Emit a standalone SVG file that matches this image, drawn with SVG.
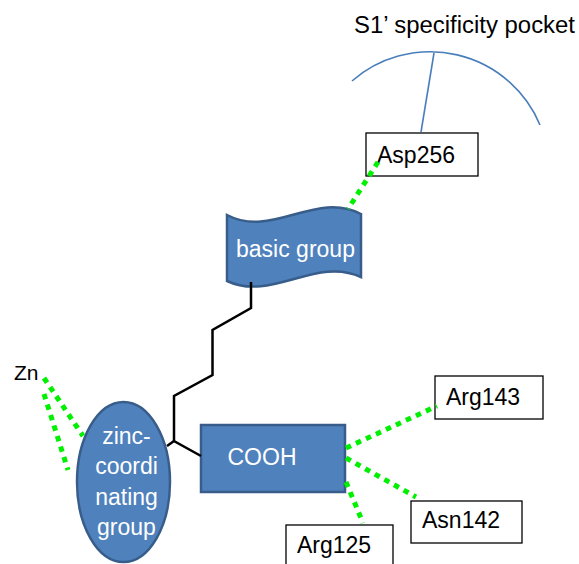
<svg xmlns="http://www.w3.org/2000/svg" width="579" height="564" viewBox="0 0 579 564">
<style>
  .blue { fill: #4f81bd; stroke: #385d8a; stroke-width: 2.5; }
  .box { fill: #ffffff; stroke: #000000; stroke-width: 1.3; }
  .wt { font-family: "Liberation Sans", Arial, sans-serif; font-size: 23px; fill: #ffffff; }
  .bt { font-family: "Liberation Sans", Arial, sans-serif; font-size: 23px; fill: #000000; }
  .dot { fill: none; stroke: #00f000; stroke-width: 5; stroke-dasharray: 5.5 5.5; }
  .chain { fill: none; stroke: #000000; stroke-width: 2.5; stroke-linejoin: miter; }
  .pocket { fill: none; stroke: #4a7ebb; stroke-width: 1.6; }
</style>
<rect width="579" height="564" fill="#ffffff"/>

<g id="s1-pocket">
  <path class="pocket" d="M352,81 A119,119 0 0 1 540,125"/>
  <text class="bt" x="354" y="33" textLength="221" lengthAdjust="spacingAndGlyphs">S1’ specificity pocket</text>
</g>

<g id="asp256">
  <rect class="box" x="366" y="133" width="112" height="43"/>
  <text class="bt" x="377" y="163">Asp256</text>
</g>

<g id="basic-group">
  <path class="blue" d="M227,215 C272,239 316,190 361,214 L361,277 C316,256 272,302 227,281 Z"/>
  <text class="wt" x="295.5" y="257" text-anchor="middle">basic group</text>
</g>

<g id="cooh">
  <rect class="blue" x="201" y="425" width="144" height="67"/>
  <text class="wt" x="262" y="465" text-anchor="middle">COOH</text>
</g>

<g id="zinc-coordinating-group">
  <ellipse class="blue" cx="123.5" cy="482" rx="46.5" ry="80"/>
  <text class="wt" x="126.5" y="444" text-anchor="middle">zinc-</text>
  <text class="wt" x="126.5" y="474" text-anchor="middle">coordi</text>
  <text class="wt" x="126.5" y="505" text-anchor="middle">nating</text>
  <text class="wt" x="126.5" y="535" text-anchor="middle">group</text>
</g>

<g id="zn">
  <text class="bt" x="14" y="380" style="font-size:21px">Zn</text>
</g>

<g id="arg143">
  <rect class="box" x="435" y="376" width="108" height="43"/>
  <text class="bt" x="446" y="405">Arg143</text>
</g>

<g id="asn142">
  <rect class="box" x="411" y="501" width="111" height="42"/>
  <text class="bt" x="422" y="528">Asn142</text>
</g>

<g id="arg125">
  <rect class="box" x="286" y="525" width="107" height="50"/>
  <text class="bt" x="297" y="553">Arg125</text>
</g>

<g id="connectors">
  <line class="pocket" x1="434" y1="53" x2="421" y2="132"/>
  <polyline class="chain" points="251,282 251,308 212.5,330 212.5,375 174,396 174,441 201,456"/>
  <line class="chain" x1="174" y1="441" x2="167" y2="446"/>
  <line class="dot" x1="378" y1="162" x2="348" y2="209"/>
  <line class="dot" x1="44" y1="378" x2="83" y2="436"/>
  <line class="dot" x1="44" y1="394" x2="68" y2="470"/>
  <line class="dot" x1="346" y1="448" x2="437" y2="406"/>
  <line class="dot" x1="346" y1="458" x2="416" y2="497"/>
  <line class="dot" x1="346" y1="482" x2="363" y2="523"/>
</g>
</svg>
